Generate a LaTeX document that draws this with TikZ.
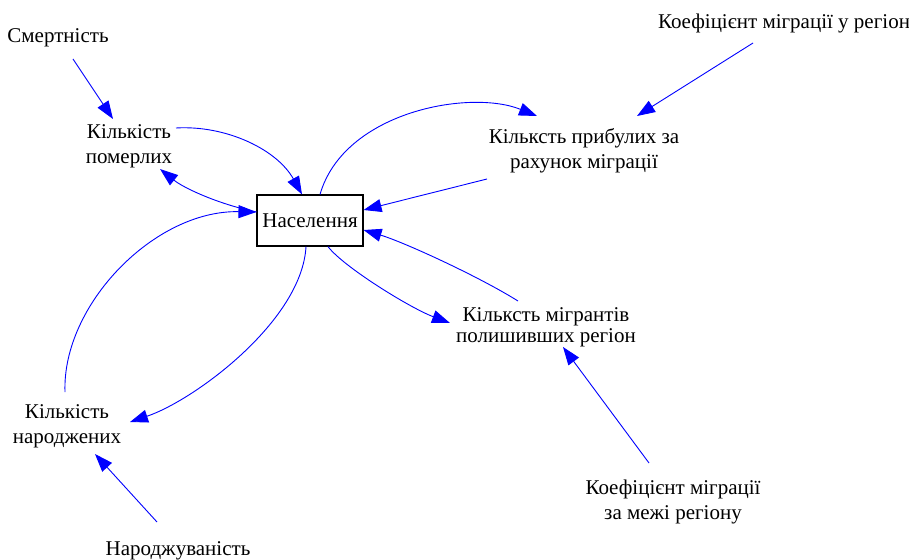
\documentclass[tikz,border=0pt]{standalone}
\usepackage{fontspec}
\setmainfont{Liberation Serif}
\usetikzlibrary{arrows.meta}
\begin{document}
\begin{tikzpicture}[x=1pt,y=-1pt,
  lbl/.style={anchor=base, align=center, inner sep=0pt, font=\fontsize{21}{25}\selectfont},
  tight/.style={font=\fontsize{21}{21}\selectfont},
  stock/.style={draw=black, line width=1.1pt, minimum width=106pt, minimum height=51pt,
    inner sep=0pt, font=\fontsize{21}{25}\selectfont},
  link/.style={draw=blue, line width=0.9pt, -{Triangle[length=18pt,width=13pt]}}]
\useasboundingbox (0,0) rectangle (909,559);

% stock and auxiliary variables (multi-line labels sit on their last baseline)
\node[stock] (pop) at (310,220.5) {Населення};
\node[lbl] (sm)   at (58,43)   {Смертність};
\node[lbl] (dead) at (129,163) {Кількість\\померлих};
\node[lbl] (born) at (67,443)  {Кількість\\народжених};
\node[lbl] (nar)  at (178,555) {Народжуваність};
\node[lbl] (kin)  at (784,29)  {Коефіцієнт міграції у регіон};
\node[lbl] (arr)  at (584,168) {Кільксть прибулих за\\рахунок міграції};
\node[lbl,tight] (mig) at (546,342) {Кільксть мігрантів\\полишивших регіон};
\node[lbl] (kout) at (673,519) {Коефіцієнт міграції\\за межі регіону};

% deaths
\draw[link] ([shift={(15,16)}]sm.base) -- ([shift={(-16,-44)}]dead.base);
\draw[link] ([shift={(47,-35)}]dead.base) .. controls +(50,-3) and +(-25,-45) .. ([shift={(-8,0)}]pop.north);
\draw[link] ([shift={(0,-8.5)}]pop.west) .. controls +(-35,-7) and +(25,20) .. ([shift={(31,6)}]dead.base);

% arrivals
\draw[link] ([shift={(10,0)}]pop.north) .. controls +(24,-83) and +(-67,-27) .. ([shift={(-47,-52)}]arr.base);
\draw[link] ([shift={(-31,14)}]kin.base) -- ([shift={(53,-52)}]arr.base);
\draw[link] ([shift={(-97,11)}]arr.base) -- ([shift={(0,-10.5)}]pop.east);

% departures
\draw[link] ([shift={(-28,-41)}]mig.base) .. controls +(-40,-25) and +(40,12) .. ([shift={(0,9.5)}]pop.east);
\draw[link] ([shift={(18,0)}]pop.south) .. controls +(15,20) and +(-40,-15) .. ([shift={(-96,-19)}]mig.base);
\draw[link] ([shift={(-24,-56)}]kout.base) -- ([shift={(17,5)}]mig.base);

% births
\draw[link] ([shift={(-4,0)}]pop.south) .. controls +(-4,74) and +(65,-22) .. ([shift={(63,-21)}]born.base);
\draw[link] ([shift={(-2,-51)}]born.base) .. controls +(-3,-87) and +(-102,-2) .. ([shift={(0,-8.5)}]pop.west);
\draw[link] ([shift={(-21,-33)}]nar.base) -- ([shift={(28,11)}]born.base);
\end{tikzpicture}
\end{document}
